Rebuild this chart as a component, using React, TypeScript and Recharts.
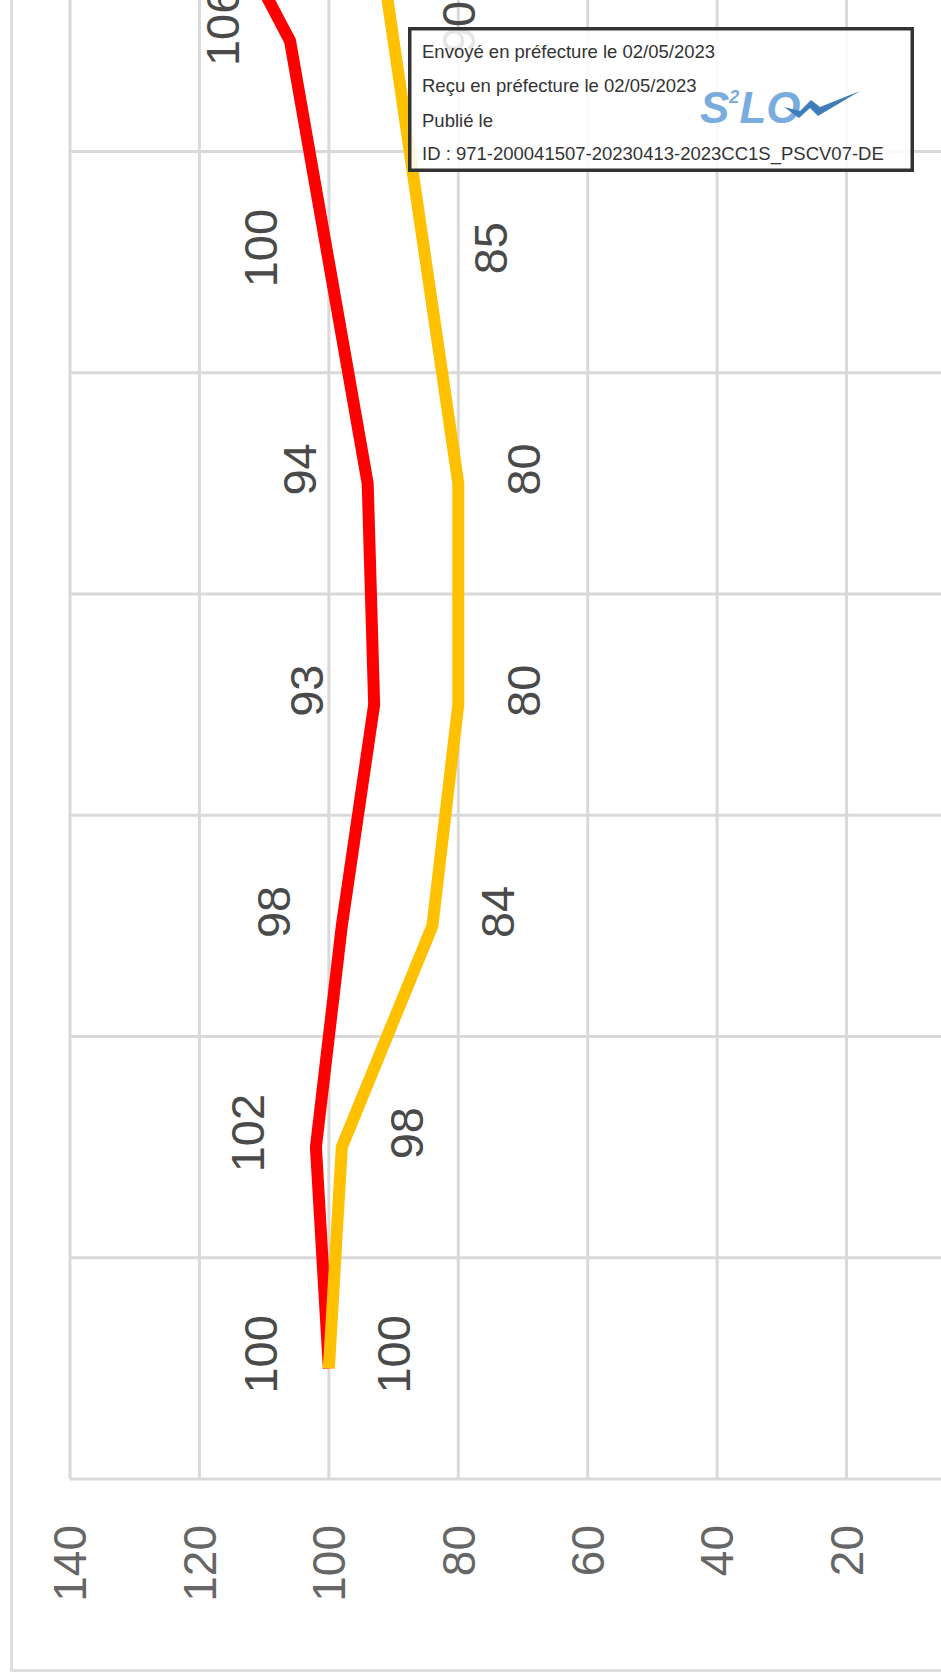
import React from 'react';
import { LineChart, Line, XAxis, YAxis, CartesianGrid, LabelList, ReferenceLine } from 'recharts';

const categories = ['P1', 'P2', 'P3', 'P4', 'P5', 'P6', 'P7', 'P8'];
const redValues = [100, 102, 98, 93, 94, 100, 106, 124];
const yellowValues = [100, 98, 84, 80, 80, 85, 90, 95];
const valueTicks = [0, 20, 40, 60, 80, 100, 120, 140];

const boxLines = [
  'Envoyé en préfecture le 02/05/2023',
  'Reçu en préfecture le 02/05/2023',
  'Publié le',
  'ID : 971-200041507-20230413-2023CC1S_PSCV07-DE',
];

const data = categories.map((c, i) => ({
  cat: c,
  pos: i + 0.5,
  red: redValues[i],
  yellow: yellowValues[i],
}));
const bandTicks = [...categories.map((_, i) => i), categories.length];

const FONT = '"Liberation Sans", Arial, Helvetica, sans-serif';

const makeLabel = (dy: number, fill: string) => (props: any) => {
  const x = props.x ?? props.viewBox?.x;
  const y = props.y ?? props.viewBox?.y;
  if (x == null || y == null) return null;
  return (
    <text
      x={x + 14}
      y={y + dy}
      textAnchor="middle"
      dominantBaseline="central"
      fontSize={47}
      fill={fill}
      fontFamily={FONT}
    >
      {props.value}
    </text>
  );
};

const CHART_W = 2000;
const CHART_H = 1000;

export default function App() {
  return (
    <div
      style={{
        position: 'absolute',
        left: 0,
        top: 0,
        width: 941,
        height: 1678,
        overflow: 'hidden',
        background: '#ffffff',
      }}
    >
      <div
        style={{
          position: 'absolute',
          left: 0,
          top: 0,
          width: CHART_W,
          height: CHART_H,
          transformOrigin: '0 0',
          transform: 'translate(0px, 1678px) rotate(-90deg)',
        }}
      >
        <div
          style={{
            position: 'absolute',
            left: 6,
            top: 10,
            width: 3000,
            height: 3000,
            border: '3px solid #dedede',
            boxSizing: 'border-box',
          }}
        />
        <div style={{ position: 'absolute', left: 0, top: 0 }}>
          <LineChart
            width={CHART_W}
            height={CHART_H}
            data={data}
            margin={{ top: 70, right: 31, bottom: 0, left: 0 }}
          >
            <CartesianGrid stroke="#d9d9d9" strokeWidth={3} vertical={false} />
            <XAxis
              type="number"
              dataKey="pos"
              domain={[0, categories.length]}
              ticks={bandTicks}
              tick={false}
              axisLine={false}
              tickLine={false}
              height={24}
            />
            <YAxis
              type="number"
              domain={[0, 140]}
              ticks={valueTicks}
              width={199}
              axisLine={false}
              tickLine={false}
              tickSize={0}
              tickMargin={46}
              tick={{ fontSize: 46, fill: '#666666', fontFamily: FONT }}
            />
            {bandTicks.map((t) => (
              <ReferenceLine
                key={`b${t}`}
                x={t}
                stroke="#d9d9d9"
                strokeWidth={3}
                ifOverflow="visible"
              />
            ))}
            <Line
              type="linear"
              dataKey="red"
              stroke="#ff0000"
              strokeWidth={12}
              strokeLinejoin="round"
              dot={false}
              isAnimationActive={false}
            >
              <LabelList dataKey="red" content={makeLabel(-68, '#4a4a4a')} />
            </Line>
            <Line
              type="linear"
              dataKey="yellow"
              stroke="#ffc000"
              strokeWidth={12}
              strokeLinejoin="round"
              dot={false}
              isAnimationActive={false}
            >
              <LabelList dataKey="yellow" content={makeLabel(65, '#4a4a4a')} />
            </Line>
          </LineChart>
        </div>
      </div>

      <svg
        width={506}
        height={145}
        style={{ position: 'absolute', left: 408, top: 27 }}
      >
        <rect
          x={1.75}
          y={1.75}
          width={502.5}
          height={141.5}
          fill="rgba(255,255,255,0.86)"
          stroke="#333333"
          strokeWidth={3.5}
        />
        {boxLines.map((t, i) => (
          <text
            key={i}
            x={14}
            y={[31, 65, 100, 133][i]}
            fontSize={18.5}
            fill="#333333"
            fontFamily={FONT}
          >
            {t}
          </text>
        ))}
        <text
          x={292}
          y={96}
          fontSize={44}
          fontWeight="bold"
          fontStyle="italic"
          fill="#7aadde"
          fontFamily={FONT}
        >
          <tspan>S</tspan>
          <tspan dy={-20} fontSize={18}>2</tspan>
          <tspan dy={20}>LO</tspan>
        </text>
        <path
          d="M 376 80 L 391 91 L 402 81 L 410 89 L 452 64 L 412 80 L 403 73 L 392 84 Z"
          fill="#3f7cba"
        />
      </svg>
    </div>
  );
}
